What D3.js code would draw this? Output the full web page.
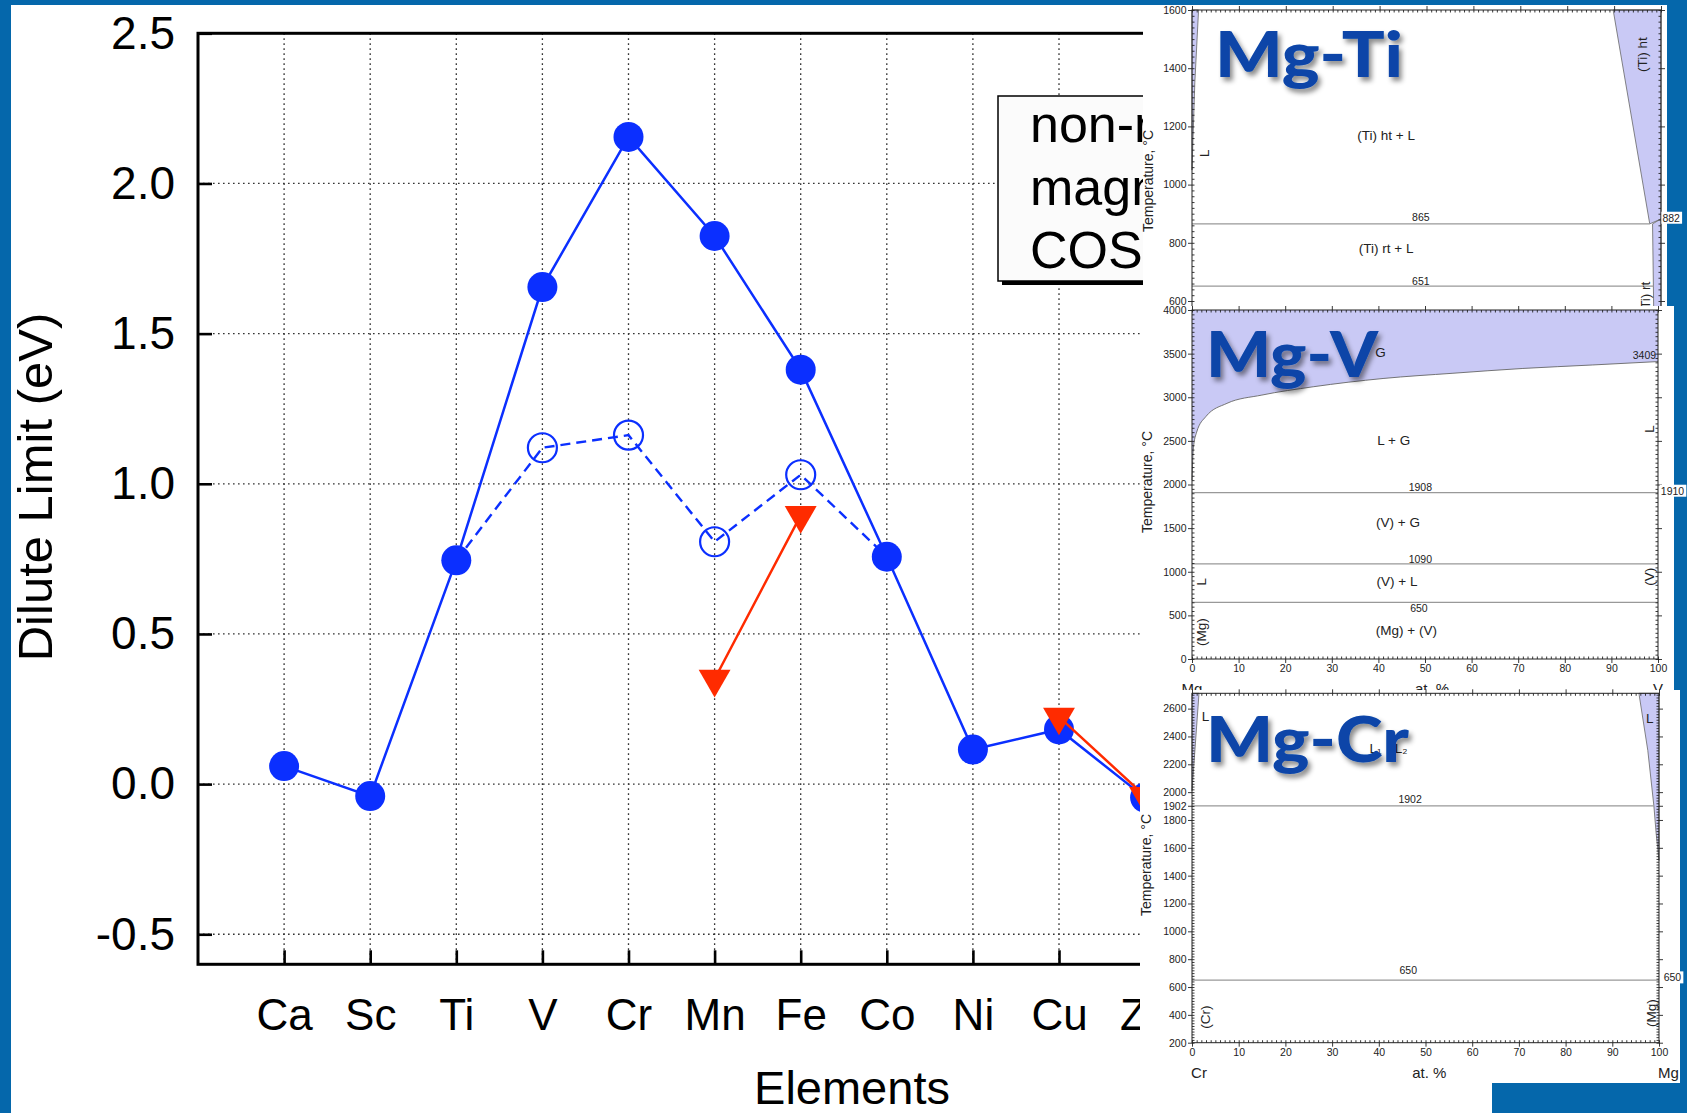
<!DOCTYPE html>
<html>
<head>
<meta charset="utf-8">
<title>Dilute Limit</title>
<script src="https://cdnjs.cloudflare.com/ajax/libs/d3/7.8.5/d3.min.js"></script>
<style>
  body { margin: 0; background: #fff; }
  svg { display: block; }
</style>
</head>
<body>
<script>
// ---- main chart values ----
var elements = ["Ca", "Sc", "Ti", "V", "Cr", "Mn", "Fe", "Co", "Ni", "Cu", "Zn"];
var magnetic = [0.06, -0.04, 0.745, 1.655, 2.155, 1.825, 1.38, 0.757, 0.115, 0.182, -0.045];
var nonMagnetic = [null, null, 0.745, 1.12, 1.162, 0.807, 1.03, 0.757, null, null, null];
var cost = [null, null, null, null, null, 0.35, 0.895, null, null, 0.224, -0.04];
var yTicks = [-0.5, 0, 0.5, 1, 1.5, 2, 2.5];
var legendLabels = ["non-magnetic", "magnetic", "COST"];

// ---- inset phase diagrams (at.% , temperature in C) ----
var atPercentTicks = [0, 10, 20, 30, 40, 50, 60, 70, 80, 90, 100];

var tiTempTicks = [600, 800, 1000, 1200, 1400, 1600];
var tiAreas = [
  [[0, 1600], [1.4, 1600], [0.6, 1350], [0, 1050]],
  [[89.8, 1600], [100, 1600], [100, 882], [97.6, 865]],
  [[98.2, 865], [100, 882], [100, 500], [98.5, 500]]
];
var tiInvariants = [{t: 865, x1: 97.6}, {t: 651, x1: 98.4}];
var tiLabels = [
  {s: "(Ti) ht + L", x: 41.4, t: 1170},
  {s: "(Ti) rt + L", x: 41.4, t: 782},
  {s: "L", x: 2.6, t: 1108, r: 1},
  {s: "(Ti) ht", x: 96.1, t: 1447, r: 1},
  {s: "(Ti) rt", x: 96.7, t: 612, r: 1}
];
var tiNumbers = [
  {s: "865", x: 48.8, t: 889},
  {s: "651", x: 48.8, t: 669},
  {s: "882", x: 100.3, t: 885, a: "start"}
];

var vTempTicks = [0, 500, 1000, 1500, 2000, 2500, 3000, 3500, 4000];
var vGasBoundary = [[0, 2050], [0.3, 2420], [1, 2600], [3, 2780], [7.5, 2930], [15, 3025],
  [26, 3120], [41, 3215], [56, 3275], [71, 3330], [86, 3370], [100, 3409]];
var vInvariants = [{t: 1908, x1: 100}, {t: 1090, x1: 100}, {t: 650, x1: 100}];
var vLabels = [
  {s: "G", x: 39.3, t: 3519, a: "start"},
  {s: "L + G", x: 43.3, t: 2510},
  {s: "(V) + G", x: 44.2, t: 1562},
  {s: "(V) + L", x: 44, t: 886},
  {s: "(Mg) + (V)", x: 46, t: 332},
  {s: "L", x: 1.9, t: 886, r: 1},
  {s: "(Mg)", x: 1.9, t: 309, r: 1},
  {s: "L", x: 98.1, t: 2636, r: 1},
  {s: "(V)", x: 98.1, t: 943, r: 1}
];
var vNumbers = [
  {s: "3409", x: 99.6, t: 3484, a: "end"},
  {s: "1908", x: 49, t: 1971},
  {s: "1910", x: 100.6, t: 1925, a: "start"},
  {s: "1090", x: 49, t: 1146},
  {s: "650", x: 48.7, t: 585}
];

var crTempTicks = [200, 400, 600, 800, 1000, 1200, 1400, 1600, 1800, 1902, 2000, 2200, 2400, 2600];
var crAreas = [
  [[0, 2710], [1.5, 2710], [0, 2010]],
  [[95.7, 2710], [100, 2710], [100, 1510], [99.4, 1700], [98.9, 1902], [97.6, 2300]]
];
var crInvariants = [{t: 1902, x1: 98.9}, {t: 650, x1: 100}];
var crLabels = [
  {s: "L", x: 2.1, t: 2545, a: "start"},
  {s: "L", x: 98, t: 2534},
  {s: "L\u2081", x: 39.3, t: 2316},
  {s: "L\u2082", x: 44.8, t: 2316},
  {s: "(Cr)", x: 2.8, t: 384, r: 1},
  {s: "(Mg)", x: 98.3, t: 413, r: 1}
];
var crNumbers = [
  {s: "1902", x: 46.7, t: 1950},
  {s: "650", x: 46.3, t: 717},
  {s: "650", x: 101, t: 667, a: "start"}
];

var font = "'Liberation Sans', Arial, Helvetica, sans-serif";
var blue = "#0b2fff", red = "#ff2b00", slideBlue = "#0567ab", purple = "#c9c9f5";

var svg = d3.select("body").append("svg")
  .attr("width", 1687)
  .attr("height", 1113)
  .style("font-family", font);

svg.append("rect").attr("width", 1687).attr("height", 1113).attr("fill", "#fff");

var defs = svg.append("defs");
var shadow = defs.append("filter").attr("id", "shadow")
  .attr("x", "-10%").attr("y", "-20%").attr("width", "130%").attr("height", "150%");
shadow.append("feDropShadow").attr("dx", 3).attr("dy", 4)
  .attr("stdDeviation", 2.5).attr("flood-color", "#000").attr("flood-opacity", 0.45);

// ================= main chart =================
var margins = {left: 198, top: 33.3, bottom: 964.3};
var step = 86.1;

var xScale = d3.scaleLinear()
  .domain([-1, elements.length])
  .range([margins.left, margins.left + step * (elements.length + 1)]);
var yScale = d3.scaleLinear()
  .domain([-0.6, 2.5])
  .range([margins.bottom, margins.top]);
var plotRight = xScale.range()[1];

// dotted grid
var grid = svg.append("g")
  .attr("stroke", "#333")
  .attr("stroke-width", 1.3)
  .attr("stroke-dasharray", "1.6,3.4");
grid.selectAll("line.v").data(elements).join("line").attr("class", "v")
  .attr("x1", function(d, i) { return xScale(i); })
  .attr("x2", function(d, i) { return xScale(i); })
  .attr("y1", margins.top)
  .attr("y2", margins.bottom);
grid.selectAll("line.h").data(yTicks.filter(function(t) { return t < 2.5; })).join("line").attr("class", "h")
  .attr("x1", margins.left)
  .attr("x2", plotRight)
  .attr("y1", function(d) { return yScale(d); })
  .attr("y2", function(d) { return yScale(d); });

var yAxis = d3.axisLeft(yScale)
  .tickValues(yTicks)
  .tickFormat(function(d) { return d.toFixed(1); })
  .tickSize(-14)
  .tickPadding(23);
var gy = svg.append("g").attr("transform", "translate(" + margins.left + ",0)").call(yAxis);
gy.select(".domain").remove();
gy.selectAll("line").attr("stroke", "#000").attr("stroke-width", 2.6);
gy.selectAll("text").attr("font-size", 46).attr("fill", "#000").attr("font-family", font);

var xAxis = d3.axisBottom(xScale)
  .tickValues(d3.range(elements.length))
  .tickFormat(function(i) { return elements[i]; })
  .tickSize(-14)
  .tickPadding(34);
var gx = svg.append("g").attr("transform", "translate(0," + margins.bottom + ")").call(xAxis);
gx.select(".domain").remove();
gx.selectAll("line").attr("stroke", "#000").attr("stroke-width", 2.6);
gx.selectAll("text").attr("font-size", 44).attr("fill", "#000").attr("font-family", font);

svg.append("rect")
  .attr("x", margins.left)
  .attr("y", margins.top)
  .attr("width", plotRight - margins.left)
  .attr("height", margins.bottom - margins.top)
  .attr("fill", "none")
  .attr("stroke", "#000")
  .attr("stroke-width", 3);

svg.append("text")
  .attr("transform", "translate(52,487) rotate(-90)")
  .attr("text-anchor", "middle")
  .attr("font-size", 49)
  .text("Dilute Limit (eV)");

svg.append("text")
  .attr("x", 852)
  .attr("y", 1104)
  .attr("text-anchor", "middle")
  .attr("font-size", 47)
  .text("Elements");

// series
var toPoints = function(arr) {
  return arr.map(function(v, i) { return {i: i, v: v}; });
};
var line = d3.line()
  .defined(function(d) { return d.v !== null; })
  .x(function(d) { return xScale(d.i); })
  .y(function(d) { return yScale(d.v); });

svg.append("path").datum(toPoints(nonMagnetic))
  .attr("d", line)
  .attr("fill", "none")
  .attr("stroke", blue)
  .attr("stroke-width", 2.4)
  .attr("stroke-dasharray", "10,6");
svg.append("g").selectAll("circle")
  .data(toPoints(nonMagnetic).filter(function(d) { return d.v !== null && d.v !== magnetic[d.i]; }))
  .join("circle")
  .attr("cx", function(d) { return xScale(d.i); })
  .attr("cy", function(d) { return yScale(d.v); })
  .attr("r", 14.5)
  .attr("fill", "none")
  .attr("stroke", blue)
  .attr("stroke-width", 2.2);

svg.append("path").datum(toPoints(magnetic))
  .attr("d", line)
  .attr("fill", "none")
  .attr("stroke", blue)
  .attr("stroke-width", 2.5);
svg.append("g").selectAll("circle")
  .data(toPoints(magnetic))
  .join("circle")
  .attr("cx", function(d) { return xScale(d.i); })
  .attr("cy", function(d) { return yScale(d.v); })
  .attr("r", 15)
  .attr("fill", blue);

svg.append("path").datum(toPoints(cost))
  .attr("d", line)
  .attr("fill", "none")
  .attr("stroke", red)
  .attr("stroke-width", 2.5);
svg.append("g").selectAll("path")
  .data(toPoints(cost).filter(function(d) { return d.v !== null; }))
  .join("path")
  .attr("d", d3.symbol().type(d3.symbolTriangle).size(440))
  .attr("transform", function(d) { return "translate(" + xScale(d.i) + "," + yScale(d.v) + ") rotate(180)"; })
  .attr("fill", red);

// legend (cut off by the insets)
var lg = svg.append("g");
lg.append("rect").attr("x", 1002).attr("y", 100).attr("width", 300).attr("height", 185).attr("fill", "#000");
lg.append("rect").attr("x", 998).attr("y", 96).attr("width", 300).attr("height", 185)
  .attr("fill", "#fbfbfb").attr("stroke", "#000").attr("stroke-width", 1.5);
lg.selectAll("text").data(legendLabels).join("text")
  .attr("x", 1030)
  .attr("y", function(d, i) { return 141.5 + i * 63.3; })
  .attr("font-size", 52)
  .text(function(d) { return d; });

// ================= slide frame =================
var frame = svg.append("g").attr("fill", slideBlue);
frame.append("rect").attr("x", 0).attr("y", 0).attr("width", 11).attr("height", 1113);
frame.append("rect").attr("x", 0).attr("y", 0).attr("width", 1687).attr("height", 5);
frame.append("rect").attr("x", 1667).attr("y", 0).attr("width", 20).attr("height", 307);
frame.append("rect").attr("x", 1674).attr("y", 306).attr("width", 13).attr("height", 384);
frame.append("rect").attr("x", 1680).attr("y", 690).attr("width", 7).attr("height", 423);
frame.append("rect").attr("x", 1492).attr("y", 1083).attr("width", 195).attr("height", 30);

// ================= inset panels =================
function tickAxis(g, axisFn, scale, values, size, tx, ty, withLabels) {
  var ax = axisFn(scale).tickValues(values).tickSize(size).tickPadding(1.5)
    .tickFormat(withLabels ? function(d) { return d; } : function() { return ""; });
  var a = g.append("g").attr("transform", "translate(" + tx + "," + ty + ")").call(ax);
  a.select(".domain").remove();
  a.selectAll("line").attr("stroke", "#222").attr("stroke-width", 0.9);
  a.selectAll("text").attr("font-size", 10.5).attr("fill", "#222").attr("font-family", font);
  return a;
}

function drawPanel(cfg) {
  var g = svg.append("g");
  g.append("rect")
    .attr("x", cfg.box[0]).attr("y", cfg.box[1])
    .attr("width", cfg.box[2] - cfg.box[0]).attr("height", cfg.box[3] - cfg.box[1])
    .attr("fill", "#fff");

  var x = d3.scaleLinear().domain([0, 100]).range(cfg.xRange);
  var y = d3.scaleLinear().domain(cfg.tDomain).range(cfg.yRange);
  var x0 = cfg.xRange[0], x1 = cfg.xRange[1], y0 = cfg.yRange[0], y1 = cfg.yRange[1];

  var poly = d3.line().x(function(d) { return x(d[0]); }).y(function(d) { return y(d[1]); });
  g.selectAll("path.area").data(cfg.areas || []).join("path").attr("class", "area")
    .attr("d", function(d) { return poly(d) + "Z"; })
    .attr("fill", purple)
    .attr("stroke", "#666")
    .attr("stroke-width", 0.8);

  if (cfg.gas) {
    var area = d3.area().curve(d3.curveMonotoneX)
      .x(function(d) { return x(d[0]); })
      .y0(y(cfg.tDomain[1]))
      .y1(function(d) { return y(d[1]); });
    g.append("path").datum(cfg.gas).attr("d", area).attr("fill", purple);
    g.append("path").datum(cfg.gas)
      .attr("d", d3.line().curve(d3.curveMonotoneX).x(function(d) { return x(d[0]); }).y(function(d) { return y(d[1]); }))
      .attr("fill", "none").attr("stroke", "#666").attr("stroke-width", 0.9);
  }

  g.selectAll("line.inv").data(cfg.invariants).join("line").attr("class", "inv")
    .attr("x1", x(0))
    .attr("x2", function(d) { return x(d.x1); })
    .attr("y1", function(d) { return y(d.t); })
    .attr("y2", function(d) { return y(d.t); })
    .attr("stroke", "#999")
    .attr("stroke-width", 1.3);

  // frame and ticks
  g.append("rect").attr("x", x0).attr("y", y1).attr("width", x1 - x0).attr("height", y0 - y1)
    .attr("fill", "none").attr("stroke", "#222").attr("stroke-width", 1);

  var minorT = d3.range(cfg.tDomain[0], cfg.tDomain[1] + 0.01, cfg.minorStep);
  var minorX = d3.range(0, 101, 1);
  tickAxis(g, d3.axisLeft, y, cfg.tempTicks, 4, x0, 0, true);
  tickAxis(g, d3.axisLeft, y, minorT, -2.5, x0, 0, false);
  tickAxis(g, d3.axisRight, y, cfg.tempTicks, 4, x1, 0, false);
  tickAxis(g, d3.axisRight, y, minorT, -2.5, x1, 0, false);
  tickAxis(g, d3.axisTop, x, atPercentTicks, 4, 0, y1, false);
  tickAxis(g, d3.axisTop, x, minorX, -2.5, 0, y1, false);
  tickAxis(g, d3.axisBottom, x, atPercentTicks, 4, 0, y0, true);
  tickAxis(g, d3.axisBottom, x, minorX, -2.5, 0, y0, false);

  g.selectAll("text.lbl").data(cfg.labels).join("text").attr("class", "lbl")
    .attr("transform", function(d) {
      return "translate(" + x(d.x) + "," + y(d.t) + ")" + (d.r ? " rotate(-90)" : "");
    })
    .attr("text-anchor", function(d) { return d.a || "middle"; })
    .attr("dy", "0.35em")
    .attr("font-size", 13.5)
    .attr("fill", "#222")
    .text(function(d) { return d.s; });

  var nums = g.selectAll("g.num").data(cfg.numbers).join("g").attr("class", "num")
    .attr("transform", function(d) { return "translate(" + x(d.x) + "," + y(d.t) + ")"; });
  nums.each(function(d) {
    var el = d3.select(this);
    var t = el.append("text")
      .attr("text-anchor", d.a || "middle")
      .attr("dy", "0.35em")
      .attr("font-size", 10.5)
      .attr("fill", "#222")
      .text(d.s);
    if (d.x > 100) {
      var b = t.node().getBBox();
      el.insert("rect", "text").attr("x", b.x - 1).attr("y", b.y).attr("width", b.width + 3).attr("height", b.height).attr("fill", "#fff");
    }
  });

  g.append("text")
    .attr("transform", "translate(" + cfg.tempTitle[0] + "," + cfg.tempTitle[1] + ") rotate(-90)")
    .attr("text-anchor", "middle")
    .attr("font-size", 14)
    .attr("fill", "#222")
    .text("Temperature, \u00b0C");

  if (cfg.bottomTitles) {
    g.selectAll("text.bt").data(cfg.bottomTitles).join("text").attr("class", "bt")
      .attr("x", function(d) { return x(d.x); })
      .attr("y", y0 + 30)
      .attr("dy", "0.35em")
      .attr("text-anchor", "middle")
      .attr("font-size", 15)
      .attr("fill", "#222")
      .text(function(d) { return d.s; });
  }

  g.append("text")
    .attr("x", cfg.titlePos[0])
    .attr("y", cfg.titlePos[1])
    .attr("font-family", "Lato, 'Open Sans', sans-serif")
    .attr("font-weight", 900)
    .attr("font-size", 63)
    .attr("textLength", cfg.titleWidth)
    .attr("lengthAdjust", "spacingAndGlyphs")
    .attr("fill", "#0944a8")
    .attr("filter", "url(#shadow)")
    .text(cfg.title);
}

drawPanel({
  box: [1143, 5, 1667, 306], xRange: [1192, 1661], tDomain: [500, 1600], yRange: [330.1, 10],
  tempTicks: tiTempTicks, minorStep: 20, areas: tiAreas, invariants: tiInvariants,
  labels: tiLabels, numbers: tiNumbers, tempTitle: [1153, 181],
  title: "Mg-Ti", titlePos: [1215, 77], titleWidth: 188
});

drawPanel({
  box: [1141, 306, 1674, 690], xRange: [1192, 1658], tDomain: [0, 4000], yRange: [659, 310],
  tempTicks: vTempTicks, minorStep: 50, gas: vGasBoundary, invariants: vInvariants,
  labels: vLabels, numbers: vNumbers, tempTitle: [1152, 482],
  bottomTitles: [{s: "Mg", x: 0}, {s: "at. %", x: 51.5}, {s: "V", x: 100}],
  title: "Mg-V", titlePos: [1206, 377], titleWidth: 172
});

drawPanel({
  box: [1140, 690, 1680, 1083], xRange: [1192, 1659], tDomain: [200, 2710], yRange: [1042.7, 693.3],
  tempTicks: crTempTicks, minorStep: 20, areas: crAreas, invariants: crInvariants,
  labels: crLabels, numbers: crNumbers, tempTitle: [1151, 865],
  bottomTitles: [{s: "Cr", x: 1.5}, {s: "at. %", x: 50.8}, {s: "Mg", x: 102}],
  title: "Mg-Cr", titlePos: [1206, 762], titleWidth: 203
});
</script>
</body>
</html>
